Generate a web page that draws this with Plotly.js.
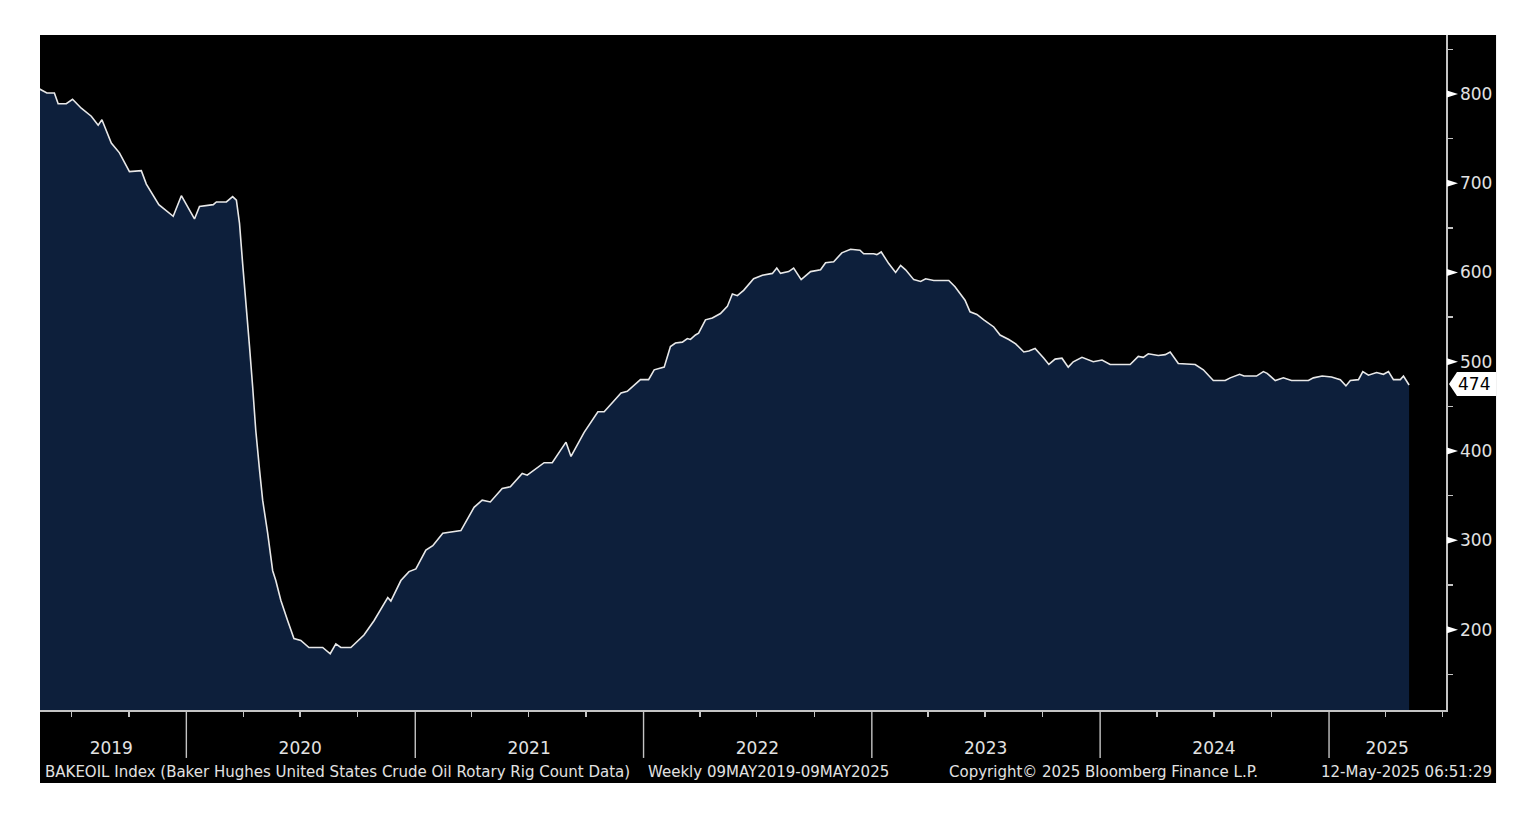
<!DOCTYPE html>
<html>
<head>
<meta charset="utf-8">
<script src="https://cdn.plot.ly/plotly-3.0.1.min.js"></script>
<style>
  html, body { margin: 0; padding: 0; background: #ffffff; }
  #chart { width: 1532px; height: 838px; }
</style>
</head>
<body>
<div id="chart"></div>
<script>
// Baker Hughes US crude oil rotary rig count (BAKEOIL), weekly
const dates = [
  "2019-05-10","2019-05-23","2019-06-04","2019-06-10","2019-06-23","2019-07-03","2019-07-17","2019-08-02",
  "2019-08-13","2019-08-19","2019-09-03","2019-09-16","2019-10-02","2019-10-21","2019-10-29","2019-11-18",
  "2019-12-11","2019-12-24","2020-01-14","2020-01-22","2020-02-13","2020-02-18","2020-03-05","2020-03-15",
  "2020-03-21","2020-03-26","2020-03-31","2020-04-06","2020-04-11","2020-04-16","2020-04-21","2020-04-27",
  "2020-05-02","2020-05-10","2020-05-18","2020-05-23","2020-05-31","2020-06-11","2020-06-21","2020-07-02",
  "2020-07-15","2020-08-06","2020-08-18","2020-08-27","2020-09-04","2020-09-20","2020-10-11","2020-10-27",
  "2020-11-12","2020-11-18","2020-11-23","2020-12-09","2020-12-22","2021-01-02","2021-01-18","2021-01-29",
  "2021-02-14","2021-02-27","2021-03-15","2021-04-05","2021-04-18","2021-05-01","2021-05-20","2021-06-02",
  "2021-06-21","2021-06-29","2021-07-26","2021-08-08","2021-08-30","2021-09-07","2021-09-28","2021-10-20",
  "2021-10-30","2021-11-17","2021-11-26","2021-12-06","2021-12-27","2022-01-09","2022-01-18","2022-02-03",
  "2022-02-13","2022-02-21","2022-03-04","2022-03-12","2022-03-17","2022-03-25","2022-03-30","2022-04-10",
  "2022-04-21","2022-05-04","2022-05-15","2022-05-23","2022-05-31","2022-06-10","2022-06-26","2022-07-10",
  "2022-07-26","2022-08-02","2022-08-08","2022-08-21","2022-08-29","2022-09-10","2022-09-25","2022-10-11",
  "2022-10-19","2022-11-01","2022-11-14","2022-11-28","2022-12-13","2022-12-19","2023-01-04","2023-01-09",
  "2023-01-16","2023-01-28","2023-02-08","2023-02-16","2023-02-24","2023-03-09","2023-03-20","2023-03-28",
  "2023-04-10","2023-04-23","2023-05-04","2023-05-14","2023-05-30","2023-06-07","2023-06-18","2023-06-29",
  "2023-07-15","2023-07-25","2023-08-08","2023-08-19","2023-09-01","2023-09-09","2023-09-19","2023-10-03",
  "2023-10-11","2023-10-21","2023-11-01","2023-11-11","2023-11-19","2023-12-03","2023-12-21","2024-01-04",
  "2024-01-17","2024-02-18","2024-03-02","2024-03-10","2024-03-18","2024-04-03","2024-04-14","2024-04-22",
  "2024-05-05","2024-06-01","2024-06-14","2024-06-30","2024-07-19","2024-07-27","2024-08-11","2024-08-18",
  "2024-09-07","2024-09-18","2024-09-24","2024-10-07","2024-10-20","2024-11-02","2024-11-29","2024-12-07",
  "2024-12-21","2025-01-05","2025-01-19","2025-01-28","2025-02-04","2025-02-17","2025-02-24","2025-03-05",
  "2025-03-18","2025-03-29","2025-04-06","2025-04-14","2025-04-25","2025-04-30","2025-05-09"
];
const rigCount = [
  806,801,801,789,789,794,784,775,
  765,771,745,734,713,714,699,676,
  663,686,660,674,676,679,679,685,
  681,655,610,562,517,472,423,379,
  345,308,266,255,233,210,190,188,
  180,180,173,184,180,180,194,210,
  229,236,232,255,265,268,289,294,
  308,309,311,337,345,343,358,360,
  375,373,387,387,410,394,421,444,
  444,458,465,467,480,480,491,494,
  517,521,522,526,525,530,532,547,
  549,554,562,576,574,580,593,597,
  599,605,599,601,605,592,601,603,
  611,612,622,626,625,621,621,620,
  623,610,600,608,603,592,590,593,
  591,591,591,584,569,556,553,547,
  539,530,525,520,511,512,515,504,
  497,503,504,494,500,505,500,502,
  497,497,506,505,509,507,508,511,
  498,497,491,479,479,482,486,484,
  484,489,487,479,482,479,479,482,
  484,483,480,473,479,480,489,485,
  488,486,489,480,480,484,474
];

// Axis labels
const yearLabels = ["2019","2020","2021","2022","2023","2024","2025"];
const yearLabelDates = ["2019-09-03","2020-07-01","2021-07-02","2022-07-02","2023-07-02","2024-07-01","2025-04-04"];
const yearStarts = ["2020-01-01","2021-01-01","2022-01-01","2023-01-01","2024-01-01","2025-01-01"];
const quarterTicks = [
  "2019-07-01","2019-10-01",
  "2020-04-01","2020-07-01","2020-10-01",
  "2021-04-01","2021-07-01","2021-10-01",
  "2022-04-01","2022-07-01","2022-10-01",
  "2023-04-01","2023-07-01","2023-10-01",
  "2024-04-01","2024-07-01","2024-10-01",
  "2025-04-01","2025-07-01"
];
const yTicks = [200,300,400,500,600,700,800];
const yMinorTicks = [150,250,350,450,550,650,750,850];

const footerLeft = "BAKEOIL Index (Baker Hughes United States Crude Oil Rotary Rig Count Data)";
const footerRange = "Weekly 09MAY2019-09MAY2025";
const footerCopy = "Copyright\u00A9 2025 Bloomberg Finance L.P.";
const footerStamp = "12-May-2025 06:51:29";

const FONT = "DejaVu Sans, Verdana, sans-serif";
const TXT = "#e2e2e2";
const AXC = "#c4c4c4";

const trace = {
  type: "scatter",
  mode: "lines",
  x: dates,
  y: rigCount,
  line: { color: "#e8e8e8", width: 1.6, shape: "linear" },
  fill: "tozeroy",
  fillcolor: "#0d1f3b",
  hoverinfo: "skip"
};

const lastVal = rigCount[rigCount.length - 1];
const tagY = lastVal + 1;

const shapes = [];
// black panel behind everything (chart frame incl. footer)
shapes.push({
  type: "rect", xref: "paper", yref: "paper",
  x0: 0, x1: 1.0356, y0: -0.1081, y1: 1,
  fillcolor: "#000000", line: { width: 0 }, layer: "below"
});
// year separator lines below the axis
yearStarts.forEach(d => shapes.push({
  type: "line", xref: "x", yref: "paper",
  x0: d, x1: d, y0: 0, y1: -0.071,
  line: { color: AXC, width: 1.4 }
}));
// white arrow markers at the major y ticks
yTicks.forEach(v => shapes.push({
  type: "path", xref: "paper", yref: "y",
  xsizemode: "pixel", ysizemode: "pixel",
  xanchor: 1, yanchor: v,
  path: "M1,3.5 L12,0 L1,-3.5 Z",
  fillcolor: "#ffffff", line: { width: 0 }
}));
// last value tag
shapes.push({
  type: "path", xref: "paper", yref: "y",
  xsizemode: "pixel", ysizemode: "pixel",
  xanchor: 1, yanchor: tagY,
  path: "M3,0 L11,12 L50,12 L50,-12 L11,-12 Z",
  fillcolor: "#ffffff", line: { width: 0 }
});

const annotations = [
  { text: String(lastVal), xref: "paper", yref: "y", x: 1, y: tagY,
    xanchor: "left", yanchor: "middle", xshift: 10, showarrow: false,
    font: { family: FONT, size: 17, color: "#000000" } },
  { text: footerLeft, xref: "paper", yref: "paper", x: 0.0021, y: -0.0919,
    xanchor: "left", yanchor: "middle", showarrow: false,
    font: { family: FONT, size: 15, color: TXT } },
  { text: footerRange, xref: "paper", yref: "paper", x: 0.431, y: -0.0919,
    xanchor: "left", yanchor: "middle", showarrow: false,
    font: { family: FONT, size: 15, color: TXT } },
  { text: footerCopy, xref: "paper", yref: "paper", x: 0.645, y: -0.0919,
    xanchor: "left", yanchor: "middle", showarrow: false,
    font: { family: FONT, size: 15, color: TXT } },
  { text: footerStamp, xref: "paper", yref: "paper", x: 1.0341, y: -0.0919,
    xanchor: "right", yanchor: "middle", showarrow: false,
    font: { family: FONT, size: 15, color: TXT } }
];

const layout = {
  width: 1532, height: 838,
  margin: { l: 40, r: 86, t: 35, b: 128, pad: 0 },
  paper_bgcolor: "#ffffff",
  plot_bgcolor: "#000000",
  showlegend: false,
  font: { family: FONT, color: TXT },
  xaxis: {
    type: "date",
    range: ["2019-05-12", "2025-07-07"],
    showgrid: false, zeroline: false,
    showline: true, linecolor: AXC, linewidth: 1.5,
    tickmode: "array", tickvals: yearLabelDates, ticktext: yearLabels,
    ticks: "", ticklen: 0,
    ticklabelstandoff: 22,
    tickfont: { family: FONT, size: 17, color: TXT },
    minor: { tickmode: "array", tickvals: quarterTicks, ticks: "outside", ticklen: 5, tickwidth: 1.4, tickcolor: AXC, showgrid: false },
    fixedrange: true
  },
  yaxis: {
    side: "right",
    range: [110, 866],
    showgrid: false, zeroline: false,
    showline: true, linecolor: AXC, linewidth: 1.5,
    tickmode: "array", tickvals: yTicks,
    ticks: "", ticklen: 0,
    ticklabelstandoff: 9,
    tickfont: { family: FONT, size: 17, color: TXT },
    minor: { tickmode: "array", tickvals: yMinorTicks, ticks: "outside", ticklen: 5, tickwidth: 1.4, tickcolor: AXC, showgrid: false },
    fixedrange: true
  },
  shapes: shapes,
  annotations: annotations
};

Plotly.newPlot("chart", [trace], layout, { staticPlot: true, displayModeBar: false });
</script>
</body>
</html>
